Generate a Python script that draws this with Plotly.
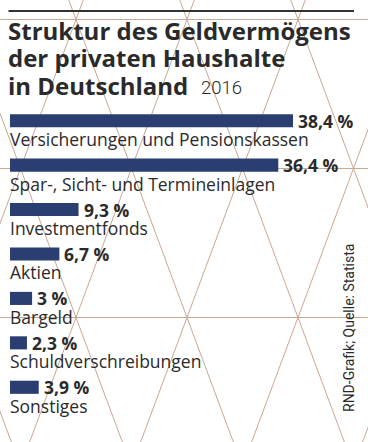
import plotly.graph_objects as go

# ---- data ----
categories = [
    "Versicherungen und Pensionskassen",
    "Spar-, Sicht- und Termineinlagen",
    "Investmentfonds",
    "Aktien",
    "Bargeld",
    "Schuldverschreibungen",
    "Sonstiges",
]
values = [38.4, 36.4, 9.3, 6.7, 3.0, 2.3, 3.9]
value_labels = ["38,4 %", "36,4 %", "9,3 %", "6,7 %", "3 %", "2,3 %", "3,9 %"]
title_lines = ["Struktur des Geldvermögens", "der privaten Haushalte", "in Deutschland"]
year = "2016"
source = "RND-Grafik; Quelle: Statista"

W, H = 368, 442
BAR = "#2b3e72"
TXT = "#2b2a2b"
LINE = "#c7a893"
FONT = "Open Sans"

def px(x):
    return x / W

def py(y):
    return 1 - y / H

fig = go.Figure()
fig.add_trace(go.Bar(
    x=values, y=categories, orientation="h",
    marker=dict(color=BAR, line=dict(width=0)),
    width=0.295, hoverinfo="skip",
))

shapes = []
# background triangular lattice
for hy in (19.5, 168.5, 317.5):
    shapes.append(dict(type="line", xref="paper", yref="paper",
                       x0=0, x1=1, y0=py(hy), y1=py(hy),
                       line=dict(color=LINE, width=1), layer="below"))
slope = 55.5 / 149.0
for k in range(-5, 7):
    x0 = 76 + 111 * k
    for s in (1, -1):
        xa = x0 + s * slope * (0 - 19.5)
        xb = x0 + s * slope * (H - 19.5)
        shapes.append(dict(type="line", xref="paper", yref="paper",
                           x0=px(xa), x1=px(xb), y0=py(0), y1=py(H),
                           line=dict(color=LINE, width=1), layer="below"))
# top rule
shapes.append(dict(type="line", xref="paper", yref="paper",
                   x0=px(8.5), x1=px(354), y0=py(11), y1=py(11),
                   line=dict(color="#333333", width=2)))

ann = []
title_centers = [30.6, 58.0, 85.2]
for t, cy in zip(title_lines, title_centers):
    ann.append(dict(text=t, xref="paper", yref="paper", x=px(6), y=py(cy),
                    xanchor="left", yanchor="middle", showarrow=False,
                    font=dict(family=FONT, size=24, color=TXT, weight="bold")))
ann.append(dict(text=year, xref="paper", yref="paper", x=px(199), y=py(87.7),
                xanchor="left", yanchor="middle", showarrow=False,
                font=dict(family="Roboto", size=18.5, color=TXT, weight=300)))
for c, v, lab in zip(categories, values, value_labels):
    ann.append(dict(text=c, xref="x", yref="y", x=0, y=c, xshift=-2, yshift=-18.5,
                    xanchor="left", yanchor="middle", showarrow=False,
                    font=dict(family=FONT, size=17.5, color=TXT)))
    ann.append(dict(text=lab, xref="x", yref="y", x=v, y=c, xshift=3, yshift=0,
                    xanchor="left", yanchor="middle", showarrow=False,
                    font=dict(family=FONT, size=17.5, color=TXT, weight="bold")))
ann.append(dict(text=source, xref="paper", yref="paper", x=px(349), y=py(328),
                xanchor="center", yanchor="middle", textangle=-90, showarrow=False,
                font=dict(family="Roboto", size=14, color=TXT)))

scale = 7.37  # px per percent
center0, step = 120.7, 44.43
fig.update_layout(
    width=W, height=H, margin=dict(l=0, r=0, t=0, b=0),
    paper_bgcolor="white", plot_bgcolor="rgba(0,0,0,0)",
    showlegend=False, shapes=shapes, annotations=ann,
    xaxis=dict(domain=[10 / W, 1], range=[0, (W - 10) / scale],
               visible=False, fixedrange=True),
    yaxis=dict(type="category", categoryorder="array", categoryarray=categories,
               range=[(H - center0) / step, (0 - center0) / step],
               visible=False, fixedrange=True),
)
fig.write_html("out.html", config={"displayModeBar": False},
               post_script="document.body.style.margin='0';")
